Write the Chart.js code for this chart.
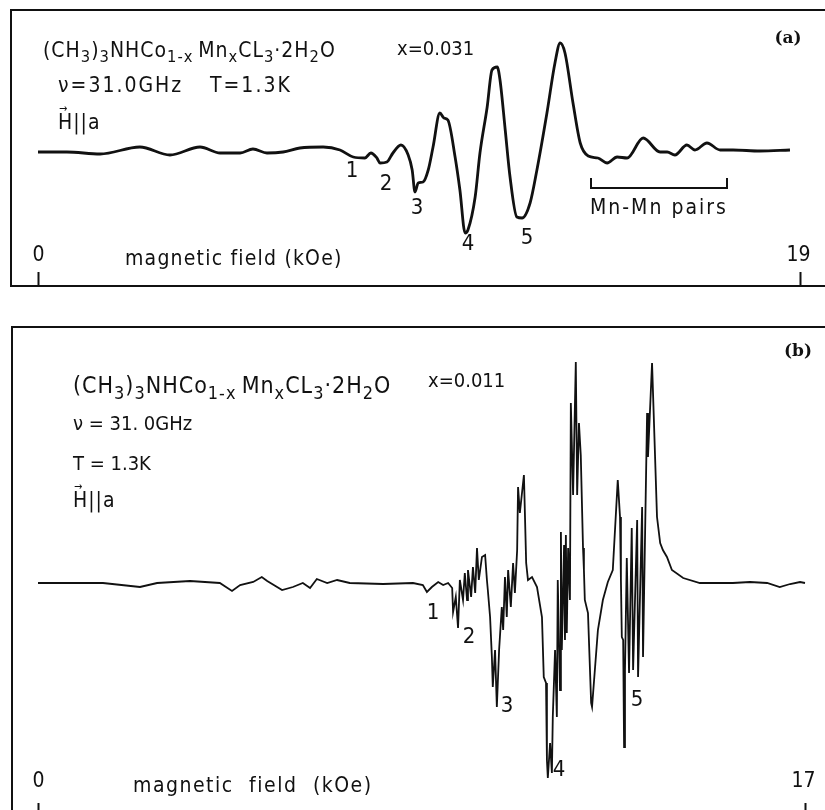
<!DOCTYPE html>
<html>
<head>
<meta charset="utf-8">
<script src="https://cdn.jsdelivr.net/npm/chart.js@4/dist/chart.umd.min.js"></script>
<style>
  body { margin: 0; width: 825px; height: 810px; overflow: hidden; background: #fff; position: relative;
    font-family: "DejaVu Sans Condensed", "DejaVu Sans", sans-serif; color: #111; }
  .box { position: absolute; border: 2px solid #111; border-right: none; }
  #boxA { left: 10px; top: 9px; width: 830px; height: 274px; }
  #boxB { left: 11px; top: 326px; width: 830px; height: 520px; border-bottom: none; }
  canvas { position: absolute; left: 0; }
  .t { position: absolute; white-space: nowrap; font-size: 21px; line-height: 1; transform: translateY(-50%); }
  .c { transform: translate(-50%, -50%); }
  .n { font-size: 22px; }
  .lbl { font-family: "DejaVu Serif", serif; font-weight: bold; font-size: 17px; }
  sub { font-size: 78%; vertical-align: -0.35em; line-height: 0; }
  .vec { position: relative; display: inline-block; }
  .vec::before { content: "\2192"; position: absolute; left: 1px; top: -9px; font-size: 11px; }
  #bracket { position: absolute; left: 590px; top: 178px; width: 134px; height: 9px;
    border: 2px solid #111; border-top: none; }
</style>
</head>
<body>
<div class="box" id="boxA"></div>
<div class="box" id="boxB"></div>
<canvas id="chartA" width="825" height="290" style="top:0"></canvas>
<canvas id="chartB" width="825" height="483" style="top:327px"></canvas>

<!-- panel (a) text -->
<div class="t" style="left:43px;top:50px;letter-spacing:1px">(CH<sub>3</sub>)<sub>3</sub>NHCo<sub>1-x</sub>&thinsp;Mn<sub>x</sub>CL<sub>3</sub>·2H<sub>2</sub>O</div>
<div class="t" style="left:397px;top:48px;font-size:20px">x=0.031</div>
<div class="t" style="left:58px;top:85px;letter-spacing:2px">ν=31.0GHz</div>
<div class="t" style="left:210px;top:85px;letter-spacing:2px">T=1.3K</div>
<div class="t" style="left:58px;top:122px;letter-spacing:1px"><span class="vec">H</span>||a</div>
<div class="t lbl c" style="left:788px;top:37px">(a)</div>
<div class="t n c" style="left:352px;top:170px">1</div>
<div class="t n c" style="left:386px;top:183px">2</div>
<div class="t n c" style="left:417px;top:207px">3</div>
<div class="t n c" style="left:468px;top:243px">4</div>
<div class="t n c" style="left:527px;top:237px">5</div>
<div id="bracket"></div>
<div class="t" style="left:590px;top:207px;letter-spacing:2px">Mn-Mn pairs</div>
<div class="t" style="left:125px;top:258px;letter-spacing:1.2px">magnetic field (kOe)</div>

<!-- panel (b) text -->
<div class="t" style="left:73px;top:385px;font-size:23px;letter-spacing:1px">(CH<sub>3</sub>)<sub>3</sub>NHCo<sub>1-x</sub>&thinsp;Mn<sub>x</sub>CL<sub>3</sub>·2H<sub>2</sub>O</div>
<div class="t" style="left:428px;top:380px;font-size:20px">x=0.011</div>
<div class="t" style="left:73px;top:423px;font-size:20px">ν = 31. 0GHz</div>
<div class="t" style="left:73px;top:463px;font-size:20px">T = 1.3K</div>
<div class="t" style="left:73px;top:500px;letter-spacing:1px"><span class="vec">H</span>||a</div>
<div class="t lbl c" style="left:798px;top:350px">(b)</div>
<div class="t n c" style="left:433px;top:612px">1</div>
<div class="t n c" style="left:469px;top:636px">2</div>
<div class="t n c" style="left:507px;top:705px">3</div>
<div class="t n c" style="left:559px;top:769px">4</div>
<div class="t n c" style="left:637px;top:699px">5</div>
<div class="t" style="left:133px;top:785px;letter-spacing:1.5px;word-spacing:8px">magnetic field (kOe)</div>

<script>
// panel (a): x = 0.031, field in kOe, signal in arbitrary units
const fieldA = [0.00, 0.72, 1.55, 2.54, 3.29, 4.04, 4.54, 5.04, 5.36, 5.71, 6.11, 6.53, 7.11, 7.53,
  7.86, 8.15, 8.30, 8.45, 8.53, 8.70, 8.85, 9.05, 9.23, 9.33, 9.40, 9.48, 9.60, 9.73, 9.85, 10.02,
  10.12, 10.22, 10.40, 10.52, 10.65, 10.72, 10.90, 11.02, 11.20, 11.32, 11.45, 11.52, 11.65, 11.77,
  11.94, 12.07, 12.27, 12.44, 12.69, 12.89, 13.02, 13.14, 13.34, 13.52, 13.72, 13.96, 14.19, 14.44,
  14.69, 15.09, 15.51, 15.69, 15.88, 16.18, 16.38, 16.68, 17.01, 17.33, 18.00, 18.75];
const signalA = [0, 0, -2, 5, -3, 5, -1, -1, 3, -1, 0, 4, 5, 2,
  -5, -6, -1, -6, -11, -10, -1, 7, -3, -18, -40, -31, -30, -18, 5, 39,
  34, 32, -5, -38, -81, -78, -45, -1, 45, 82, 85, 72, 22, -25,
  -65, -66, -51, -18, 39, 89, 109, 99, 49, 9, -4, -6, -11, -5,
  -6, 14, 0, 0, -3, 7, 2, 9, 2, 2, 1, 2];

// panel (b): x = 0.011
const fieldB = [0.00, 1.44, 2.26, 2.64, 3.37, 4.03, 4.30, 4.48, 4.77, 4.96, 5.08, 5.41, 5.65, 5.87,
  6.03, 6.18, 6.41, 6.63, 6.91, 7.65, 8.31, 8.53, 8.62, 8.73, 8.87, 8.98, 9.09, 9.18, 9.20, 9.26,
  9.31, 9.35, 9.42, 9.46, 9.51, 9.53, 9.60, 9.64, 9.69, 9.73, 9.77, 9.84, 9.91, 9.95, 9.97, 10.02,
  10.06, 10.08, 10.13, 10.17, 10.22, 10.28, 10.31, 10.35, 10.39, 10.42, 10.48, 10.53, 10.57, 10.62,
  10.64, 10.68, 10.77, 10.82, 10.86, 10.95, 11.06, 11.17, 11.21, 11.26, 11.28, 11.30, 11.35, 11.39,
  11.41, 11.46, 11.50, 11.52, 11.57, 11.59, 11.61, 11.66, 11.68, 11.70, 11.72, 11.75, 11.79, 11.81,
  11.86, 11.92, 11.95, 11.99, 12.03, 12.08, 12.10, 12.12, 12.19, 12.26, 12.28, 12.41, 12.52, 12.63,
  12.74, 12.85, 12.90, 12.92, 12.94, 12.97, 12.99, 13.01, 13.05, 13.10, 13.16, 13.19, 13.28, 13.30,
  13.39, 13.41, 13.50, 13.52, 13.61, 13.63, 13.72, 13.79, 13.85, 13.94, 14.05, 14.30, 14.67, 15.05,
  15.40, 15.78, 16.16, 16.44, 16.67, 16.89, 17.00];
const signalB = [0, 0, -4, 0, 2, 0, -8, -2, 1, 6, 2, -7, -4, 0,
  -5, 4, 0, 3, 0, -1, 0, -2, -9, -4, 1, -2, 0, -5, -29, -14,
  -45, 3, -17, 10, -17, 13, -14, 16, -10, 35, 3, 26, 28, 3, -7, -34,
  -74, -104, -67, -124, -67, -24, -47, 6, -34, 13, -24, 20, -10, 33,
  96, 70, 108, 20, 3, 6, -4, -34, -94, -100, -177, -195, -160, -190,
  -134, -67, -134, 3, -107, 51, -67, 38, -57, 48, -50, 35, -17, 180,
  88, 221, 88, 160, 128, 35, 13, -17, -30, -120, -124, -47, -17, 1,
  13, 103, 66, 3, -54, -57, -164, -87, 25, -90, 55, -87, 63, -94,
  76, -74, 170, 126, 220, 220, 66, 40, 33, 26, 13, 5, 0, 0,
  0, 1, 0, -4, -1, 1, 0];

const ticksA = [0, 19];
const ticksB = [0, 17];

// field axis: end ticks drawn upward from the frame with their labels above
const axisTicks = {
  id: "axisTicks",
  afterDraw(chart, args, opts) {
    const { ctx, scales: { x } } = chart;
    ctx.save();
    ctx.strokeStyle = "#111";
    ctx.lineWidth = 2;
    ctx.fillStyle = "#111";
    ctx.font = '21px "DejaVu Sans Condensed", "DejaVu Sans", sans-serif';
    ctx.textAlign = "center";
    ctx.textBaseline = "middle";
    opts.values.forEach((v) => {
      const px = Math.round(x.getPixelForValue(v)) + 0.5;
      ctx.beginPath();
      ctx.moveTo(px, opts.tickTop);
      ctx.lineTo(px, opts.tickBottom);
      ctx.stroke();
      ctx.fillText(String(v), px - (v > 0 ? opts.labelShift : 0), opts.labelY);
    });
    ctx.restore();
  },
};

function makeSpectrum(id, field, signal, cfg) {
  return new Chart(document.getElementById(id), {
    type: "line",
    data: {
      datasets: [{
        data: field.map((f, i) => ({ x: f, y: signal[i] })),
        borderColor: "#111",
        borderWidth: cfg.width,
        pointRadius: 0,
        tension: cfg.tension,
        cubicInterpolationMode: cfg.mode,
        fill: false,
        clip: false,
      }],
    },
    options: {
      responsive: false,
      animation: false,
      devicePixelRatio: 1,
      layout: { padding: cfg.padding },
      scales: {
        x: { type: "linear", min: 0, max: cfg.xmax, display: false },
        y: { min: cfg.ymin, max: cfg.ymax, display: false },
      },
      plugins: {
        legend: { display: false },
        tooltip: { enabled: false },
        axisTicks: cfg.ticks,
      },
    },
    plugins: [axisTicks],
  });
}

makeSpectrum("chartA", fieldA, signalA, {
  width: 2.8, tension: 0.4, mode: "monotone", xmax: 19, ymin: -133, ymax: 142,
  padding: { left: 38, right: 25, top: 10, bottom: 5 },
  ticks: { values: ticksA, tickTop: 272, tickBottom: 285, labelY: 256, labelShift: 2 },
});

makeSpectrum("chartB", fieldB, signalB, {
  width: 1.8, tension: 0, mode: "default", xmax: 17, ymin: -227, ymax: 256,
  padding: { left: 38, right: 20, top: 0, bottom: 0 },
  ticks: { values: ticksB, tickTop: 476, tickBottom: 483, labelY: 455, labelShift: 2 },
});
</script>
</body>
</html>
